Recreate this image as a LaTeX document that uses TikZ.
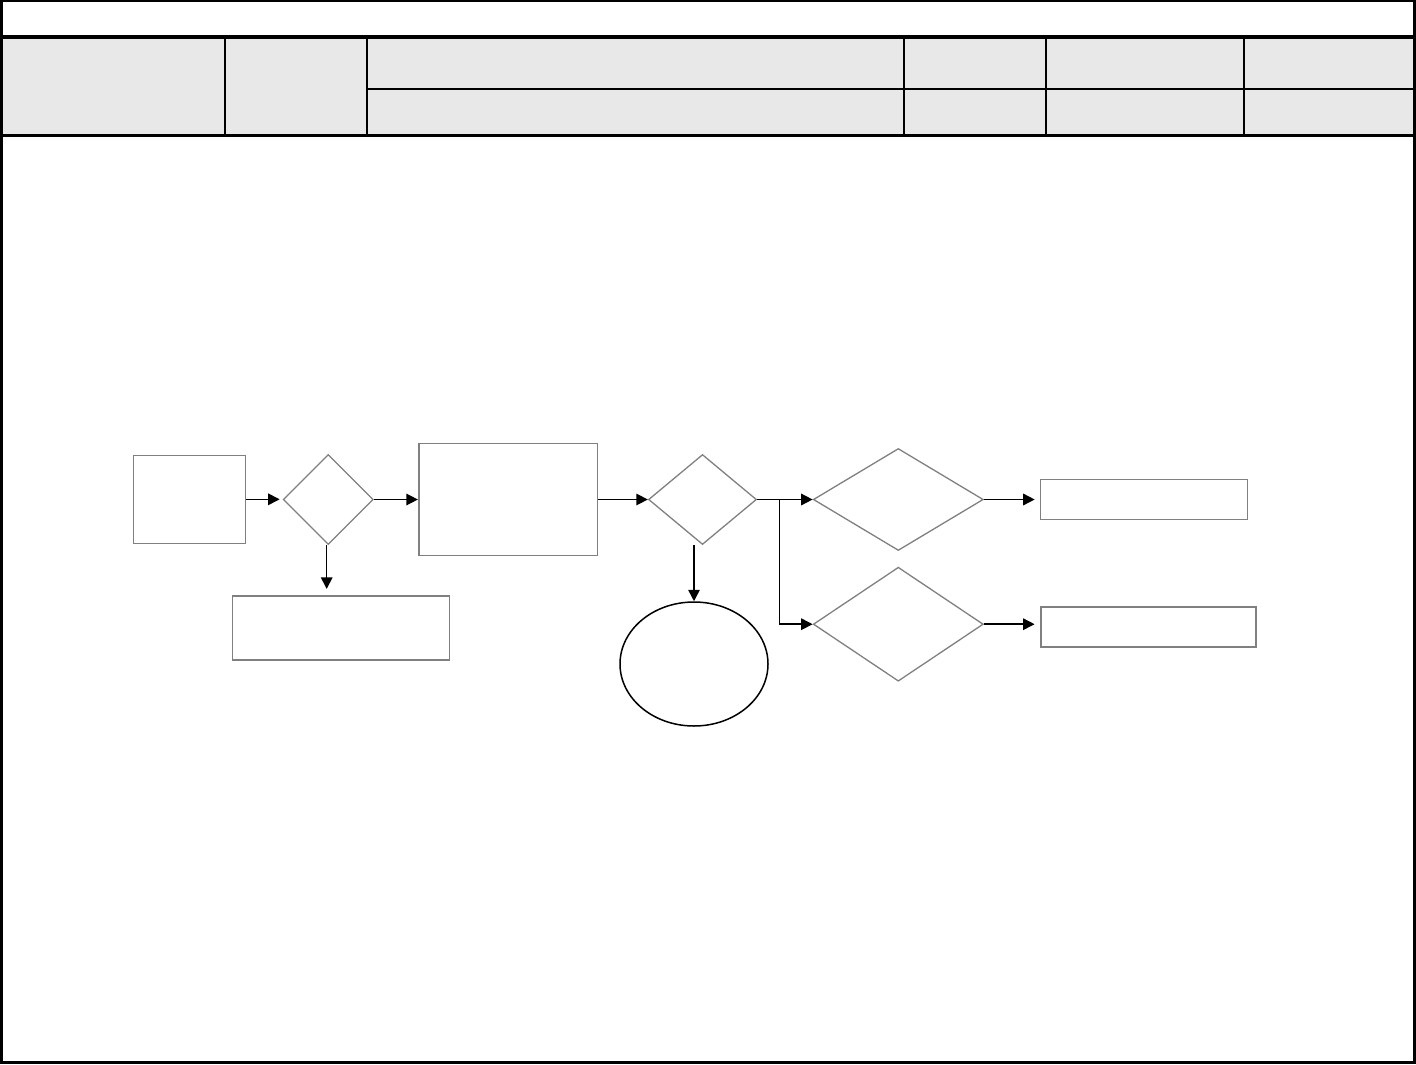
\documentclass[tikz,border=0pt]{standalone}
\usetikzlibrary{shapes.geometric,arrows.meta}
\definecolor{hdrfill}{HTML}{E8E8E8}
\definecolor{shapegray}{HTML}{808080}
\tikzset{
  frame/.style={line width=2.6pt,draw=black},
  thickrule/.style={line width=3.2pt,draw=black},
  thinrule/.style={line width=2pt,draw=black},
  gbox/.style={rectangle,draw=shapegray,line width=1.6pt,inner sep=0pt,fill=white},
  gdia/.style={diamond,draw=shapegray,line width=1.3pt,inner sep=0pt,fill=white},
  circ/.style={ellipse,draw=black,line width=1.5pt,inner sep=0pt},
  arr/.style={draw=black,line width=1.5pt,-{Triangle[length=11.5pt,width=11.5pt]}},
  plain/.style={draw=black,line width=1.5pt}
}
\begin{document}
\begin{tikzpicture}[x=1pt,y=-1pt]
\useasboundingbox (0,0) rectangle (1416,1065);
% header fill
\fill[hdrfill] (2.5,38.5) rectangle (1413,134);
% outer frame
\draw[frame] (1.3,1) rectangle (1414.7,1062.7);
% header rules
\draw[thickrule] (1.3,37) -- (1414.7,37);
\draw[thickrule] (1.3,135.5) -- (1414.7,135.5);
\draw[thinrule] (367,88.7) -- (1414.7,88.7);
\foreach \xx in {225,367,904,1046,1244}
  \draw[thinrule] (\xx,38.6) -- (\xx,134);
% flowchart nodes
\node[gbox,minimum width=112pt,minimum height=88pt] (A) at (189.5,499.3) {};
\node[gdia,minimum width=90pt,minimum height=90pt] (B) at (328.3,499.5) {};
\node[gbox,minimum width=178.6pt,minimum height=112pt] (C) at (508,499.3) {};
\node[gbox,minimum width=217pt,minimum height=64pt] (D) at (340.8,627.7) {};
\node[gdia,minimum width=108pt,minimum height=90pt] (E) at (702.5,499.5) {};
\node[circ,minimum width=148pt,minimum height=124pt] (F) at (694,664) {};
\node[gdia,minimum width=170pt,minimum height=102pt] (G) at (898.3,499.5) {};
\node[gdia,minimum width=170pt,minimum height=114pt] (H) at (898.3,624.2) {};
\node[gbox,minimum width=207pt,minimum height=40pt] (I) at (1144,499.3) {};
\node[gbox,minimum width=215.4pt,minimum height=40.3pt,line width=2pt] (J) at (1148.3,626.8) {};
\coordinate (br) at (779.5,499.5);
% connectors
\draw[arr,shorten >=3pt] (A.east) -- (A.east -| B.west);
\draw[arr] (B.east) -- (B.east -| C.west);
\draw[arr,shorten >=6pt] ([xshift=-1.6pt]B.south) -- ([xshift=-1.6pt]B.south |- D.north);
\draw[arr] (E.west -| C.east) -- (E.west);
\draw[arr] (F.north |- E.south) -- (F.north);
\draw[arr] (E.east) -- (G.west);
\draw[arr] (br) |- (H.west);
\draw[arr,shorten >=5pt] (G.east) -- (G.east -| I.west);
\draw[arr,shorten >=5pt] (H.east) -- (H.east -| J.west);
\end{tikzpicture}
\end{document}
